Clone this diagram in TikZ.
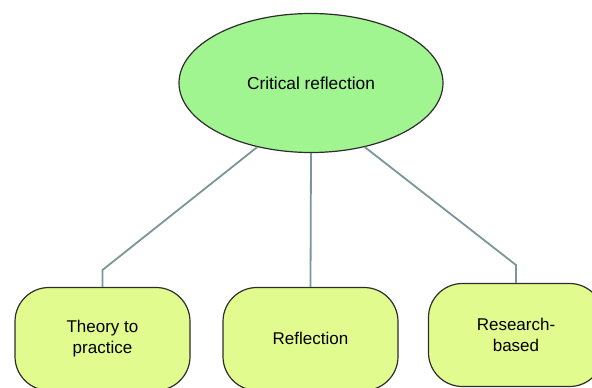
\documentclass[tikz,border=0pt]{standalone}
\usepackage{fontspec}
\setmainfont{Liberation Sans}
\usetikzlibrary{shapes.geometric}
\usetikzlibrary{positioning}

\definecolor{critgreen}{RGB}{161,245,145}
\definecolor{boxgreen}{RGB}{226,251,142}
\definecolor{linkgray}{RGB}{122,150,150}
\definecolor{edgegray}{RGB}{45,45,45}

\tikzset{
    crit/.style={ellipse, draw=edgegray, line width=1.2pt, fill=critgreen,
        minimum width=264pt, minimum height=139pt, inner sep=0pt,
        font=\fontsize{17.3}{20}\selectfont},
    leaf/.style={rectangle, rounded corners=34pt, draw=edgegray, line width=1.2pt,
        fill=boxgreen, minimum width=175pt, minimum height=103pt, inner sep=0pt,
        align=center, font=\fontsize{17}{20.5}\selectfont},
    link/.style={draw=linkgray, line width=1.8pt}
}

\begin{document}
\begin{tikzpicture}[x=1pt,y=-1pt]
    \useasboundingbox (0,0) rectangle (592,388);
    \clip (0,0) rectangle (592,388);
    \node[crit] (critical) at (311,83) {Critical reflection};
    \node[leaf] (theory) at (102.5,339) {\raisebox{-3pt}{\begin{tabular}{@{}c@{}}Theory to\\practice\end{tabular}}};
    \node[leaf] (reflection) at (310.5,339) {\raisebox{2pt}{Reflection}};
    \node[leaf] (research) at (516,335) {Research-\\based};
    \coordinate (bendtheory) at (102.5,270);
    \coordinate (bendresearch) at (516,265);
    \draw[link] (critical.230) -- (bendtheory) -- (theory.north);
    \draw[link] (critical.south) -- (reflection.north);
    \draw[link] (critical.310) -- (bendresearch) -- (research.north);
\end{tikzpicture}
\end{document}
